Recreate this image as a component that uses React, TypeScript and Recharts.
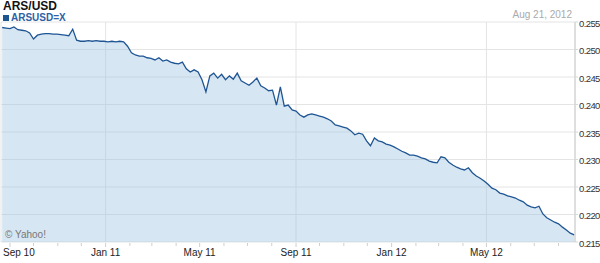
import { AreaChart, Area, XAxis, YAxis, CartesianGrid } from 'recharts'

// ARS/USD rate, one reading every 5 days from 22 Aug 2010 to 21 Aug 2012
const START = Date.UTC(2010, 7, 22)
const DAY = 86400000
const STEP_DAYS = 5

const rates = [
  0.2540, 0.2539, 0.2538, 0.2541, 0.2536, 0.2535, 0.2534, 0.2530, 0.2519, 0.2526,
  0.2528, 0.2529, 0.2529, 0.2528, 0.2528, 0.2527, 0.2526, 0.2525, 0.2537, 0.2517,
  0.2515, 0.2515, 0.2516, 0.2515, 0.2516, 0.2515, 0.2515, 0.2514, 0.2515, 0.2514,
  0.2515, 0.2514, 0.2506, 0.2494, 0.2490, 0.2488, 0.2488, 0.2485, 0.2484, 0.2481,
  0.2485, 0.2479, 0.2481, 0.2477, 0.2475, 0.2474, 0.2477, 0.2465, 0.2459, 0.2463,
  0.2459, 0.2445, 0.2423, 0.2452, 0.2457, 0.2448, 0.2455, 0.2445, 0.2452, 0.2446,
  0.2457, 0.2443, 0.2439, 0.2435, 0.2441, 0.2448, 0.2434, 0.2430, 0.2425, 0.2426,
  0.2399, 0.2432, 0.2397, 0.2399, 0.2390, 0.2388, 0.2381, 0.2377, 0.2381, 0.2383,
  0.2381, 0.2379, 0.2377, 0.2374, 0.2370, 0.2363, 0.2361, 0.2359, 0.2357, 0.2352,
  0.2345, 0.2348, 0.2346, 0.2334, 0.2325, 0.2339, 0.2334, 0.2332, 0.2328, 0.2326,
  0.2323, 0.2319, 0.2315, 0.2312, 0.2308, 0.2308, 0.2306, 0.2303, 0.2301, 0.2297,
  0.2295, 0.2294, 0.2305, 0.2303, 0.2295, 0.2290, 0.2286, 0.2283, 0.2281, 0.2285,
  0.2276, 0.2270, 0.2266, 0.2261, 0.2255, 0.2248, 0.2245, 0.2239, 0.2237, 0.2234,
  0.2232, 0.2230, 0.2226, 0.2223, 0.2217, 0.2214, 0.2212, 0.2215, 0.2201, 0.2194,
  0.2190, 0.2186, 0.2183, 0.2177, 0.2172, 0.2166, 0.2163,
]

const majorTicks = [
  Date.UTC(2010, 8, 1),
  Date.UTC(2011, 0, 1),
  Date.UTC(2011, 4, 1),
  Date.UTC(2011, 8, 1),
  Date.UTC(2012, 0, 1),
  Date.UTC(2012, 4, 1),
]

// every month start shown on the axis (minor tick marks)
const monthTicks = [
  Date.UTC(2010, 8, 1), Date.UTC(2010, 9, 1), Date.UTC(2010, 10, 1), Date.UTC(2010, 11, 1),
  Date.UTC(2011, 0, 1), Date.UTC(2011, 1, 1), Date.UTC(2011, 2, 1), Date.UTC(2011, 3, 1),
  Date.UTC(2011, 4, 1), Date.UTC(2011, 5, 1), Date.UTC(2011, 6, 1), Date.UTC(2011, 7, 1),
  Date.UTC(2011, 8, 1), Date.UTC(2011, 9, 1), Date.UTC(2011, 10, 1), Date.UTC(2011, 11, 1),
  Date.UTC(2012, 0, 1), Date.UTC(2012, 1, 1), Date.UTC(2012, 2, 1), Date.UTC(2012, 3, 1),
  Date.UTC(2012, 4, 1), Date.UTC(2012, 5, 1), Date.UTC(2012, 6, 1), Date.UTC(2012, 7, 1),
]

const yTicks = [0.215, 0.22, 0.225, 0.23, 0.235, 0.24, 0.245, 0.25, 0.255]

const monthNames = ['Jan', 'Feb', 'Mar', 'Apr', 'May', 'Jun', 'Jul', 'Aug', 'Sep', 'Oct', 'Nov', 'Dec']

const xDomain = [Date.UTC(2010, 7, 20, 12), Date.UTC(2012, 7, 22)]

const data = rates.map((rate, i) => ({ t: START + i * STEP_DAYS * DAY, rate }))

const FONT = '"Liberation Sans", Arial, sans-serif'

function MonthTick(props: any) {
  const { x, y, payload } = props
  const d = new Date(payload.value)
  const isMajor = majorTicks.includes(payload.value)
  const label = `${monthNames[d.getUTCMonth()]} ${String(d.getUTCFullYear()).slice(2)}`
  const isFirst = payload.value === majorTicks[0]
  return (
    <g>
      <line x1={x} x2={x} y1={y + 1} y2={y + (isMajor ? 5 : 4)} stroke="#cfcfcf" />
      {isMajor && (
        <text
          x={isFirst ? 3 : x}
          y={y + 10}
          textAnchor={isFirst ? 'start' : 'middle'}
          dominantBaseline="central"
          fontSize={10}
          fontFamily={FONT}
          fill="#222"
        >
          {label}
        </text>
      )}
    </g>
  )
}

function RateTick(props: any) {
  const { x, y, payload } = props
  return (
    <text
      x={x}
      y={y + 1}
      dominantBaseline="central"
      fontSize={9.5}
      letterSpacing={-0.6}
      fontFamily={FONT}
      fill="#333"
    >
      {Number(payload.value).toFixed(3)}
    </text>
  )
}

export default function App() {
  return (
    <div style={{ position: 'absolute', left: 0, top: 0, width: 600, height: 263, background: '#fff', fontFamily: FONT }}>
      <AreaChart width={600} height={263} data={data} margin={{ top: 22, right: 0, bottom: 0, left: 1 }}>
        <XAxis xAxisId="grid" dataKey="t" type="number" domain={xDomain} ticks={majorTicks} hide />
        <CartesianGrid xAxisId="grid" stroke="#e4e4e4" />
        <XAxis
          dataKey="t"
          type="number"
          domain={xDomain}
          ticks={monthTicks}
          interval={0}
          height={21}
          axisLine={false}
          tickLine={false}
          tickSize={0}
          tickMargin={0}
          tick={<MonthTick />}
        />
        <YAxis
          orientation="right"
          width={25}
          domain={[0.215, 0.255]}
          ticks={yTicks}
          interval={0}
          tick={<RateTick />}
          tickSize={3}
          tickMargin={1}
          tickLine={{ stroke: '#d8d8d8' }}
          axisLine={{ stroke: '#cccccc' }}
        />
        <Area
          dataKey="rate"
          type="linear"
          stroke="#1f5593"
          strokeWidth={1.3}
          fill="#9ec4e3"
          fillOpacity={0.42}
          isAnimationActive={false}
          dot={false}
          activeDot={false}
        />
      </AreaChart>
      <div style={{ position: 'absolute', left: 3, top: 0, fontSize: 12, fontWeight: 'bold', color: '#111', lineHeight: '13px' }}>
        ARS/USD
      </div>
      <div style={{ position: 'absolute', left: 3, top: 12, display: 'flex', alignItems: 'center', fontSize: 10, fontWeight: 'bold', color: '#2d62a5', lineHeight: '11px' }}>
        <span style={{ display: 'inline-block', width: 6, height: 6, background: '#1d5591', marginRight: 2 }} />
        ARSUSD=X
      </div>
      <div style={{ position: 'absolute', right: 28, top: 9, fontSize: 10, color: '#aaa', lineHeight: '11px' }}>
        Aug 21, 2012
      </div>
      <div style={{ position: 'absolute', left: 5, top: 229, fontSize: 10, color: '#777', lineHeight: '11px' }}>
        © Yahoo!
      </div>
    </div>
  )
}
